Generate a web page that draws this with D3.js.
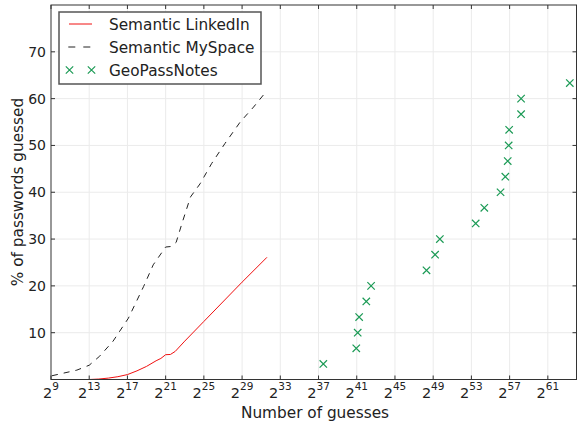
<!DOCTYPE html>
<html>
<head>
<meta charset="utf-8">
<script src="https://cdn.jsdelivr.net/npm/d3@7"></script>
<style>
  body { margin: 0; background: #fff; }
  svg { font-family: "DejaVu Sans", sans-serif; }
</style>
</head>
<body>
<div id="vis1"></div>
<script>
const frame_width = 577;
const frame_height = 424;
const margins = {left: 51, right: 0.5, top: 5, bottom: 44.5};

// log2 of guesses, % guessed
const linkedin_exp = [9, 13, 14, 15, 16, 17, 18, 19, 20, 20.5, 21, 21.5, 22, 23, 25, 29, 31.6];
const linkedin_pct = [0, 0, 0.1, 0.3, 0.6, 1.05, 1.85, 2.8, 4.0, 4.5, 5.3, 5.35, 6.0, 8.2, 12.4, 20.8, 26.1];

const myspace_exp = [9.1, 11.7, 13.0, 14.1, 15.5, 17.1, 18.7, 19.7, 21.0, 21.5, 22.1, 22.7, 23.6, 24.6, 25.8, 27.2, 28.8, 30.2, 31.4];
const myspace_pct = [0.8, 2.0, 3.05, 5.0, 8.2, 13.1, 19.9, 24.5, 28.3, 28.4, 29.3, 33.3, 39.0, 41.8, 46.1, 50.4, 55.0, 58.2, 61.2];

const geo_exp = [37.5, 40.95, 41.1, 41.25, 42.0, 42.5, 48.3, 49.2, 49.7, 53.45, 54.35, 56.05, 56.55, 56.8, 56.9, 56.95, 58.2, 58.2, 63.3];
const geo_pct = [3.33, 6.67, 10, 13.33, 16.67, 20, 23.33, 26.67, 30, 33.33, 36.67, 40, 43.33, 46.67, 50, 53.33, 56.67, 60, 63.33];

const x_tick_exp = [9, 13, 17, 21, 25, 29, 33, 37, 41, 45, 49, 53, 57, 61];
const y_ticks = [10, 20, 30, 40, 50, 60, 70];

const series_names = ["Semantic LinkedIn", "Semantic MySpace", "GeoPassNotes"];

const red = "#f01010";
const green = "#1b9a55";

const svg = d3.select("#vis1")
    .append("svg")
        .attr("width", frame_width)
        .attr("height", frame_height);

const x_scale = d3.scaleLog()
    .base(2)
    .domain([Math.pow(2, 9), Math.pow(2, 64)])
    .range([margins.left, frame_width - margins.right]);

const y_scale = d3.scaleLinear()
    .domain([0, 80])
    .range([frame_height - margins.bottom, margins.top]);

const x0 = margins.left, x1 = frame_width - margins.right;
const y0 = frame_height - margins.bottom, y1 = margins.top;

// grid
svg.append("g")
    .selectAll("line")
    .data(x_tick_exp.slice(1))
    .enter()
    .append("line")
        .attr("x1", (d) => x_scale(Math.pow(2, d)))
        .attr("x2", (d) => x_scale(Math.pow(2, d)))
        .attr("y1", y0).attr("y2", y1)
        .attr("stroke", "#ebebeb")
        .attr("stroke-width", 1);

svg.append("g")
    .selectAll("line")
    .data(y_ticks)
    .enter()
    .append("line")
        .attr("x1", x0).attr("x2", x1)
        .attr("y1", (d) => y_scale(d))
        .attr("y2", (d) => y_scale(d))
        .attr("stroke", "#ebebeb")
        .attr("stroke-width", 1);

// lines
const line = d3.line()
    .x((d) => x_scale(Math.pow(2, d[0])))
    .y((d) => y_scale(d[1]));

svg.append("path")
    .datum(d3.zip(myspace_exp, myspace_pct))
    .attr("d", line)
    .attr("fill", "none")
    .attr("stroke", "#222")
    .attr("stroke-width", 1)
    .attr("stroke-dasharray", "6,6");

svg.append("path")
    .datum(d3.zip(linkedin_exp, linkedin_pct))
    .attr("d", line)
    .attr("fill", "none")
    .attr("stroke", red)
    .attr("stroke-width", 1);

const cross = (g, s) => {
    g.append("path")
        .attr("d", `M${-s},${-s}L${s},${s}M${-s},${s}L${s},${-s}`)
        .attr("stroke", green)
        .attr("stroke-width", 1.2)
        .attr("fill", "none");
};

svg.append("g")
    .selectAll("g")
    .data(d3.zip(geo_exp, geo_pct))
    .enter()
    .append("g")
        .attr("transform", (d) => "translate(" + x_scale(Math.pow(2, d[0])) + "," + y_scale(d[1]) + ")")
        .each(function() { cross(d3.select(this), 3.7); });

// frame
svg.append("rect")
    .attr("x", x0).attr("y", y1)
    .attr("width", x1 - x0).attr("height", y0 - y1)
    .attr("fill", "none")
    .attr("stroke", "#333")
    .attr("stroke-width", 1);

// ticks pointing inward, all four sides
const tk = 4;
x_tick_exp.forEach((e) => {
    const xx = x_scale(Math.pow(2, e));
    svg.append("line").attr("x1", xx).attr("x2", xx).attr("y1", y0).attr("y2", y0 - tk).attr("stroke", "#333");
    svg.append("line").attr("x1", xx).attr("x2", xx).attr("y1", y1).attr("y2", y1 + tk).attr("stroke", "#333");
});
y_ticks.forEach((v) => {
    const yy = y_scale(v);
    svg.append("line").attr("x1", x0).attr("x2", x0 + tk).attr("y1", yy).attr("y2", yy).attr("stroke", "#333");
    svg.append("line").attr("x1", x1).attr("x2", x1 - tk).attr("y1", yy).attr("y2", yy).attr("stroke", "#333");
});

// tick labels
const xl = svg.append("g")
    .selectAll("text")
    .data(x_tick_exp)
    .enter()
    .append("text")
        .attr("x", (d) => x_scale(Math.pow(2, d)))
        .attr("y", 397.5)
        .attr("text-anchor", "middle")
        .attr("font-size", "14.5px")
        .attr("fill", "#222");
xl.append("tspan").text("2");
xl.append("tspan")
    .attr("dy", -8)
    .attr("font-size", "10.5px")
    .text((d) => d);

svg.append("g")
    .selectAll("text")
    .data(y_ticks)
    .enter()
    .append("text")
        .attr("x", 46)
        .attr("y", (d) => y_scale(d))
        .attr("dy", "0.36em")
        .attr("text-anchor", "end")
        .attr("font-size", "14px")
        .attr("fill", "#222")
        .text((d) => d);

// axis titles
svg.append("text")
    .attr("x", 315)
    .attr("y", 417.5)
    .attr("text-anchor", "middle")
    .attr("font-size", "15.3px")
    .attr("fill", "#222")
    .text("Number of guesses");

svg.append("text")
    .attr("transform", "translate(22.5,192) rotate(-90)")
    .attr("text-anchor", "middle")
    .attr("font-size", "15.3px")
    .attr("fill", "#222")
    .text("% of passwords guessed");

// legend
const legend = svg.append("g");
legend.append("rect")
    .attr("x", 59).attr("y", 12)
    .attr("width", 202).attr("height", 72)
    .attr("fill", "#fff")
    .attr("stroke", "#555")
    .attr("stroke-width", 1.5);

const rows = [24, 47, 70];
legend.append("line").attr("x1", 69).attr("x2", 92).attr("y1", rows[0]).attr("y2", rows[0])
    .attr("stroke", red).attr("stroke-width", 1);
legend.append("line").attr("x1", 68.3).attr("x2", 91).attr("y1", rows[1]).attr("y2", rows[1])
    .attr("stroke", "#222").attr("stroke-width", 1).attr("stroke-dasharray", "7,8");
[69.5, 91.5].forEach((xx) => {
    cross(legend.append("g").attr("transform", "translate(" + xx + "," + rows[2] + ")"), 3.7);
});
legend.selectAll("text.lbl")
    .data(series_names)
    .enter()
    .append("text")
        .attr("class", "lbl")
        .attr("x", 109)
        .attr("y", (d, i) => rows[i])
        .attr("dy", "0.36em")
        .attr("font-size", "15.3px")
        .attr("fill", "#222")
        .text((d) => d);
</script>
</body>
</html>
